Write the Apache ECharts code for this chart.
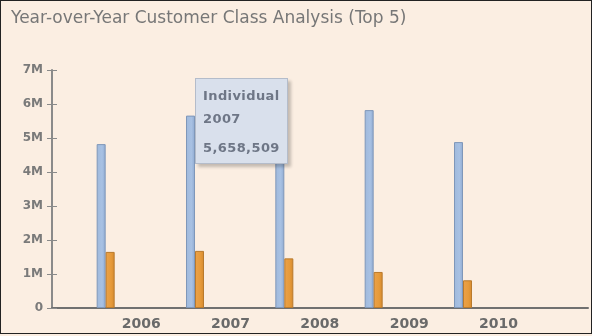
<!DOCTYPE html>
<html>
<head>
<meta charset="utf-8">
<script src="https://cdn.jsdelivr.net/npm/echarts@6/dist/echarts.min.js"></script>
<style>
html,body{margin:0;padding:0;background:#fff;}
#wrap{position:relative;width:592px;height:336px;}
#chart{position:absolute;left:0;top:0;width:592px;height:336px;background:#FBEEE2;}
#frame{position:absolute;left:0;top:0;width:590px;height:332px;border:1px solid #222;pointer-events:none;}
</style>
</head>
<body>
<div id="wrap"><div id="chart"></div><div id="frame"></div></div>
<script>
const title = 'Year-over-Year Customer Class Analysis (Top 5)';
const categories = ['2006', '2007', '2008', '2009', '2010'];
const yTicks = [0, 1000000, 2000000, 3000000, 4000000, 5000000, 6000000, 7000000];
const seriesNames = ['Class A', 'Class B', 'Class C', 'Individual', 'Business', 'Class D'];
const classA = [0, 0, 0, 0, 0];
const classB = [0, 0, 0, 0, 0];
const classC = [0, 0, 0, 0, 0];
const individual = [4820000, 5658509, 5300000, 5820000, 4880000];
const business = [1650000, 1680000, 1460000, 1060000, 815000];
const classD = [0, 0, 0, 0, 0];
const seriesData = [classA, classB, classC, individual, business, classD];
const seriesBorders = ['#8098B8', '#8098B8', '#8098B8', '#7F97B9', '#B97A2C', '#8098B8'];
const seriesBorderWidths = [0, 0, 0, 1, 1, 0];

const chart = echarts.init(document.getElementById('chart'));
const fmtM = v => v === 0 ? '0' : (v / 1000000) + 'M';
const yMax = yTicks[yTicks.length - 1];
const yInt = yTicks[1] - yTicks[0];

const series = seriesData.map((d, i) => ({
  name: seriesNames[i],
  type: 'bar',
  data: d,
  barWidth: 9,
  barGap: '0%',
  itemStyle: {
    color: {
      type: 'linear', x: 0, y: 0, x2: 1, y2: 0,
      colorStops: i === 4
        ? [{offset: 0, color: '#EBA24A'}, {offset: 0.6, color: '#E69A3A'}, {offset: 1, color: '#D58A2E'}]
        : [{offset: 0, color: '#9FB9DC'}, {offset: 0.6, color: '#A8C1E3'}, {offset: 1, color: '#90ABD2'}]
    },
    borderColor: seriesBorders[i],
    borderWidth: seriesBorderWidths[i]
  },
  emphasis: {disabled: true},
  z: 2
}));

chart.setOption({
  animation: false,
  backgroundColor: '#FBEEE2',
  title: {
    text: title,
    left: 6, top: 5,
    textStyle: {fontFamily: 'DejaVu Sans', fontSize: 17, fontWeight: 'normal', color: '#777777'}
  },
  grid: {left: 52, right: 4, top: 70, bottom: 28},
  tooltip: {
    trigger: 'item',
    triggerOn: 'none',
    alwaysShowContent: true,
    position: [195, 78],
    backgroundColor: '#D9E0EC',
    borderColor: '#B4BCCA',
    borderWidth: 1,
    padding: [5, 7, 4, 7],
    extraCssText: 'border-radius:0;box-shadow:3px 3px 3px rgba(0,0,0,0.22);',
    textStyle: {fontFamily: 'DejaVu Sans', fontSize: 13, fontWeight: 'bold', color: '#6E7686'},
    formatter: p => '<div style="font:bold 13px DejaVu Sans;color:#6E7686;line-height:23px;letter-spacing:0.4px">' +
      p.seriesName + '<br>' + p.name + '<div style="margin-top:6px">' +
      p.value.toLocaleString('en-US') + '</div></div>'
  },
  xAxis: {
    type: 'category',
    data: categories,
    max: categories.length,
    boundaryGap: true,
    axisLine: {lineStyle: {color: '#707070', width: 2}},
    axisTick: {show: false},
    axisLabel: {
      fontFamily: 'DejaVu Sans', fontSize: 14, fontWeight: 'bold', color: '#6A6A6A',
      margin: 9,
      padding: [0, 0, 0, 89],
      formatter: v => (v === undefined || v === null) ? '' : v
    }
  },
  yAxis: [{
    type: 'value',
    min: 0, max: yMax, interval: yInt,
    axisLine: {show: true, lineStyle: {color: '#8A8A8A', width: 2}},
    axisTick: {show: true, length: 5, lineStyle: {color: '#8A8A8A'}},
    splitLine: {show: false},
    axisLabel: {fontFamily: 'DejaVu Sans', fontSize: 12, fontWeight: 'bold', color: '#7A7A7A', margin: 9, formatter: fmtM}
  }, {
    type: 'value',
    position: 'left',
    min: 0, max: yMax, interval: yInt,
    axisLine: {show: false},
    axisTick: {show: true, inside: true, length: 5, lineStyle: {color: '#8A8A8A'}},
    axisLabel: {show: false},
    splitLine: {show: false}
  }],
  series: series
});

chart.dispatchAction({type: 'showTip', seriesIndex: 3, dataIndex: 1});
</script>
</body>
</html>
